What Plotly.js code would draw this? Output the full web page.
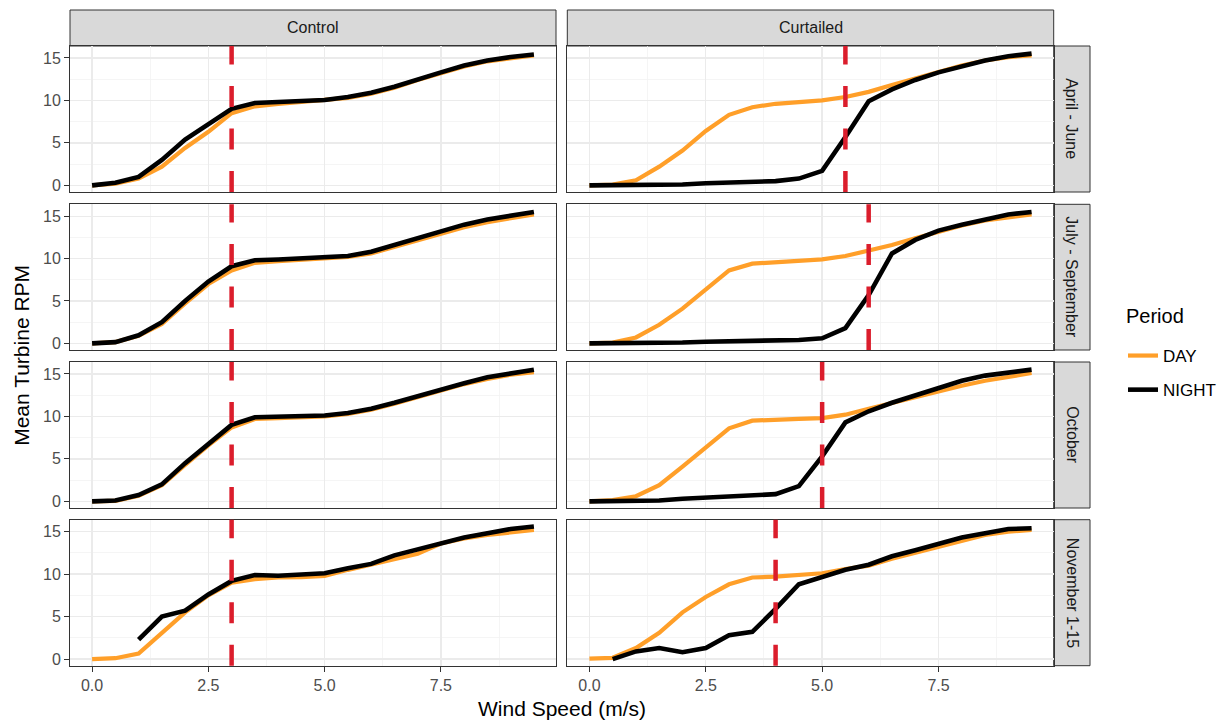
<!DOCTYPE html>
<html>
<head>
<meta charset="utf-8">
<script src="https://cdn.plot.ly/plotly-3.0.1.min.js"></script>
<style>html,body{margin:0;padding:0;background:#fff;}#chart{width:1228px;height:721px;}</style>
</head>
<body>
<div id="chart"></div>
<script>
// ---------------- DATA ----------------
const windSpeed = [0.0,0.5,1.0,1.5,2.0,2.5,3.0,3.5,4.0,4.5,5.0,5.5,6.0,6.5,7.0,7.5,8.0,8.5,9.0,9.5];

const treatments = ["Control", "Curtailed"];
const seasons = ["April - June", "July - September", "October", "November 1-15"];
const periods = ["DAY", "NIGHT"];
const legendTitle = "Period";

// Control
const controlAprJunDay   = [0.0,0.2,0.8,2.2,4.4,6.3,8.5,9.3,9.6,9.8,10.0,10.3,10.8,11.5,12.4,13.2,14.0,14.6,15.0,15.3];
const controlAprJunNight = [0.0,0.3,1.0,3.0,5.4,7.2,9.0,9.7,9.85,9.95,10.05,10.4,10.9,11.6,12.5,13.3,14.1,14.7,15.1,15.4];
const controlJulSepDay   = [0.0,0.15,0.9,2.3,4.7,7.0,8.6,9.5,9.7,9.85,10.0,10.2,10.6,11.4,12.2,13.0,13.7,14.3,14.8,15.2];
const controlJulSepNight = [0.0,0.15,0.95,2.5,5.0,7.3,9.1,9.8,9.9,10.0,10.1,10.3,10.8,11.6,12.5,13.3,14.0,14.6,15.1,15.5];
const controlOctDay      = [0.0,0.05,0.65,1.9,4.3,6.6,8.7,9.7,9.8,9.9,10.0,10.3,10.8,11.5,12.3,13.1,13.8,14.4,14.9,15.2];
const controlOctNight    = [0.0,0.1,0.75,2.0,4.5,6.8,9.0,9.9,9.95,10.0,10.1,10.4,10.9,11.6,12.4,13.2,13.9,14.6,15.1,15.5];
const controlNovDay      = [0.0,0.1,0.65,3.0,5.5,7.5,9.0,9.4,9.6,9.65,9.8,10.5,11.1,11.8,12.4,13.6,14.2,14.6,14.9,15.2];
const controlNovNight    = [null,null,2.3,5.0,5.7,7.6,9.2,9.9,9.8,9.95,10.1,10.7,11.2,12.2,12.9,13.6,14.3,14.8,15.3,15.6];

// Curtailed
const curtailedAprJunDay   = [0.0,0.1,0.6,2.2,4.1,6.4,8.3,9.2,9.6,9.85,10.0,10.4,11.0,11.8,12.6,13.3,14.1,14.7,15.1,15.3];
const curtailedAprJunNight = [0.0,0.0,0.05,0.1,0.1,0.25,0.3,0.4,0.5,0.8,1.7,5.7,9.9,11.3,12.4,13.3,14.0,14.7,15.2,15.5];
const curtailedJulSepDay   = [0.0,0.1,0.7,2.2,4.1,6.4,8.6,9.4,9.6,9.75,9.9,10.3,10.9,11.6,12.4,13.2,13.9,14.5,14.9,15.2];
const curtailedJulSepNight = [0.0,0.0,0.05,0.1,0.1,0.2,0.25,0.3,0.35,0.4,0.6,1.8,5.7,10.6,12.2,13.3,14.0,14.6,15.2,15.5];
const curtailedOctDay      = [0.0,0.15,0.6,1.9,4.1,6.3,8.6,9.5,9.65,9.7,9.8,10.2,10.9,11.6,12.3,13.0,13.6,14.2,14.7,15.1];
const curtailedOctNight    = [0.0,0.0,0.05,0.1,0.3,0.45,0.65,0.7,0.85,1.8,5.3,9.3,10.6,11.6,12.5,13.4,14.2,14.8,15.2,15.5];
const curtailedNovDay      = [0.05,0.15,1.3,3.1,5.5,7.3,8.8,9.6,9.7,9.9,10.1,10.6,11.0,11.8,12.5,13.3,14.0,14.6,15.0,15.2];
const curtailedNovNight    = [null,0.0,0.9,1.3,0.8,1.3,2.8,3.2,5.9,8.8,9.6,10.5,11.1,12.1,12.8,13.5,14.3,14.8,15.3,15.4];

// Cut-in wind speed (dashed line) per panel
const controlCutIn   = [3.0, 3.0, 3.0, 3.0];
const curtailedCutIn = [5.5, 6.0, 5.0, 4.0];

// Axis ticks
const xTickVals = [0, 2.5, 5, 7.5];
const xTickText = ["0.0", "2.5", "5.0", "7.5"];
const xMinorVals = [1.25, 3.75, 6.25, 8.75];
const yTickVals = [0, 5, 10, 15];
const yTickText = ["0", "5", "10", "15"];
const yMinorVals = [2.5, 7.5, 12.5];

const seriesGrid = [
  [[controlAprJunDay, controlAprJunNight], [curtailedAprJunDay, curtailedAprJunNight]],
  [[controlJulSepDay, controlJulSepNight], [curtailedJulSepDay, curtailedJulSepNight]],
  [[controlOctDay, controlOctNight],       [curtailedOctDay, curtailedOctNight]],
  [[controlNovDay, controlNovNight],       [curtailedNovDay, curtailedNovNight]]
];
const cutInGrid = [controlCutIn, curtailedCutIn];

// ---------------- STYLE / LAYOUT ----------------
const W = 1228, H = 721;
const FONT = "Liberation Sans, Arial, Helvetica, sans-serif";
const lineColors = { DAY: "#FF9F29", NIGHT: "#000000" };
const lineWidths = { DAY: 4.2, NIGHT: 4.6 };
const redDash = "#DB1D2C";
const colPx = [[70, 556], [567.3, 1053.7]];
const rowPx = [[46, 192], [204.3, 350], [362, 508], [519.7, 665.7]];
const stripTop = [10, 46];
const stripRight = [1053.7, 1090];
const px2x = p => p / W;
const py2y = p => 1 - p / H;

const traces = [];
const layout = {
  width: W, height: H,
  margin: { l: 0, r: 0, t: 0, b: 0 },
  paper_bgcolor: "#ffffff",
  plot_bgcolor: "#ffffff",
  font: { family: FONT, color: "#1A1A1A" },
  showlegend: true,
  legend: {
    x: px2x(1123), y: py2y(338), xanchor: "left", yanchor: "top",
    font: { size: 17, color: "#000000", family: FONT },
    itemwidth: 30,
    tracegroupgap: 9,
    bgcolor: "rgba(0,0,0,0)"
  },
  shapes: [],
  annotations: []
};

for (let r = 0; r < 4; r++) {
  for (let c = 0; c < 2; c++) {
    const k = r * 2 + c + 1;
    const xa = "xaxis" + (k === 1 ? "" : k);
    const ya = "yaxis" + (k === 1 ? "" : k);
    const xr = "x" + (k === 1 ? "" : k);
    const yr = "y" + (k === 1 ? "" : k);
    const bottom = r === 3, left = c === 0;
    layout[xa] = {
      domain: [px2x(colPx[c][0]), px2x(colPx[c][1])],
      anchor: yr,
      range: [-0.475, 9.975],
      tickmode: "array", tickvals: xTickVals, ticktext: xTickText,
      showticklabels: bottom,
      ticks: bottom ? "outside" : "", ticklen: 5, tickwidth: 1, tickcolor: "#333333",
      tickfont: { size: 16, color: "#4D4D4D", family: FONT },
      showgrid: true, gridcolor: "#EBEBEB", gridwidth: 1.3,
      minor: { tickvals: xMinorVals, showgrid: true, gridcolor: "#F2F2F2", gridwidth: 0.8, ticks: "" },
      zeroline: false, showline: true, mirror: true, linecolor: "#333333", linewidth: 1,
      fixedrange: true
    };
    layout[ya] = {
      domain: [py2y(rowPx[r][1]), py2y(rowPx[r][0])],
      anchor: xr,
      range: [-0.78, 16.4],
      tickmode: "array", tickvals: yTickVals, ticktext: yTickText,
      showticklabels: left,
      ticks: left ? "outside" : "", ticklen: 5, tickwidth: 1, tickcolor: "#333333",
      tickfont: { size: 16, color: "#4D4D4D", family: FONT },
      showgrid: true, gridcolor: "#EBEBEB", gridwidth: 1.3,
      minor: { tickvals: yMinorVals, showgrid: true, gridcolor: "#F2F2F2", gridwidth: 0.8, ticks: "" },
      zeroline: false, showline: true, mirror: true, linecolor: "#333333", linewidth: 1,
      fixedrange: true
    };

    periods.forEach((p, pi) => {
      traces.push({
        type: "scatter", mode: "lines",
        x: windSpeed, y: seriesGrid[r][c][pi],
        xaxis: xr, yaxis: yr,
        name: p, legendgroup: p,
        showlegend: k === 1,
        connectgaps: false,
        line: { color: lineColors[p], width: lineWidths[p] },
        hoverinfo: "x+y+name"
      });
    });

    layout.shapes.push({
      type: "line", xref: xr, yref: yr + " domain",
      x0: cutInGrid[c][r], x1: cutInGrid[c][r], y0: 0, y1: 1,
      line: { color: redDash, width: 4.5, dash: "21px,21.5px" },
      layer: "above"
    });
  }
}

// Column strips (top)
treatments.forEach((t, c) => {
  layout.shapes.push({
    type: "rect", xref: "paper", yref: "paper",
    x0: px2x(colPx[c][0]), x1: px2x(colPx[c][1]),
    y0: py2y(stripTop[1]), y1: py2y(stripTop[0]),
    fillcolor: "#D9D9D9", line: { color: "#333333", width: 1 }, layer: "below"
  });
  layout.annotations.push({
    xref: "paper", yref: "paper",
    x: px2x((colPx[c][0] + colPx[c][1]) / 2), y: py2y((stripTop[0] + stripTop[1]) / 2),
    text: t, showarrow: false, xanchor: "center", yanchor: "middle",
    font: { size: 16, color: "#1A1A1A", family: FONT }
  });
});
// Row strips (right)
seasons.forEach((s, r) => {
  layout.shapes.push({
    type: "rect", xref: "paper", yref: "paper",
    x0: px2x(stripRight[0]), x1: px2x(stripRight[1]),
    y0: py2y(rowPx[r][1]), y1: py2y(rowPx[r][0]),
    fillcolor: "#D9D9D9", line: { color: "#333333", width: 1 }, layer: "below"
  });
  layout.annotations.push({
    xref: "paper", yref: "paper",
    x: px2x((stripRight[0] + stripRight[1]) / 2), y: py2y((rowPx[r][0] + rowPx[r][1]) / 2),
    text: s, showarrow: false, textangle: 90, xanchor: "center", yanchor: "middle",
    font: { size: 16, color: "#1A1A1A", family: FONT }
  });
});

// Legend title
layout.annotations.push({
  xref: "paper", yref: "paper",
  x: px2x(1124), y: py2y(316),
  text: legendTitle, showarrow: false, xanchor: "left", yanchor: "middle",
  font: { size: 20, color: "#000000", family: FONT }
});

// Axis titles
layout.annotations.push({
  xref: "paper", yref: "paper",
  x: px2x((colPx[0][0] + colPx[1][1]) / 2), y: py2y(708),
  text: "Wind Speed (m/s)", showarrow: false, xanchor: "center", yanchor: "middle",
  font: { size: 21, color: "#000000", family: FONT }
});
layout.annotations.push({
  xref: "paper", yref: "paper",
  x: px2x(22), y: py2y((rowPx[0][0] + rowPx[3][1]) / 2),
  text: "Mean Turbine RPM", showarrow: false, textangle: -90, xanchor: "center", yanchor: "middle",
  font: { size: 21, color: "#000000", family: FONT }
});

Plotly.newPlot("chart", traces, layout, { displayModeBar: false, staticPlot: true });
</script>
</body>
</html>
